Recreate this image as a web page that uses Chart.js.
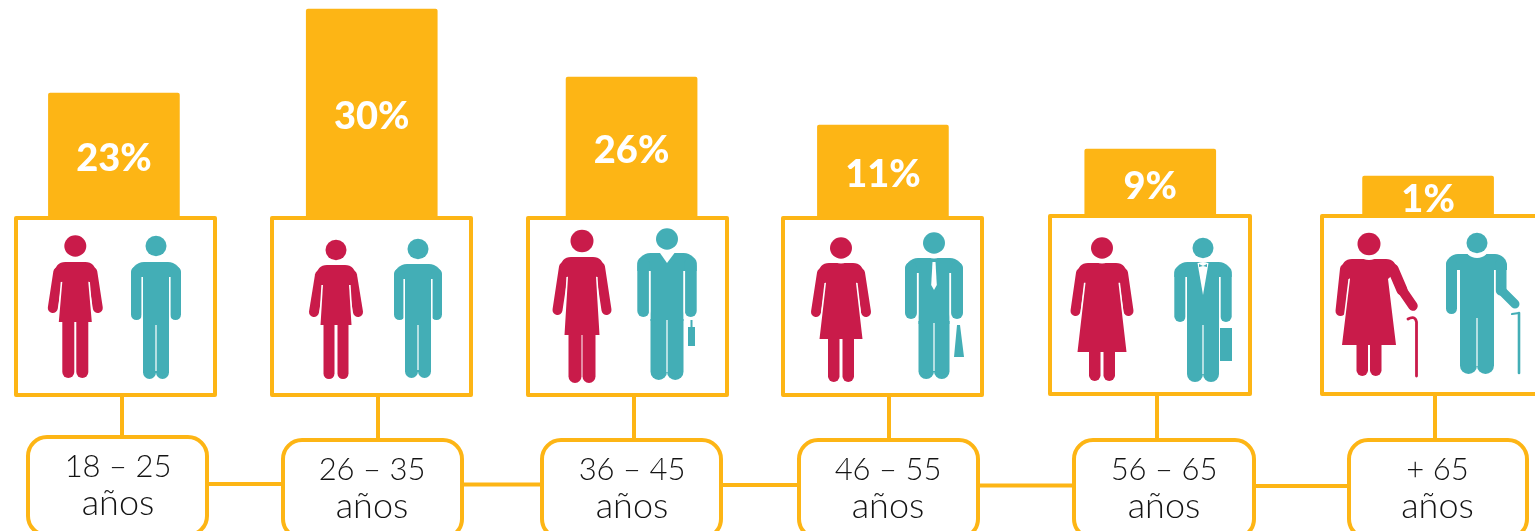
<!DOCTYPE html>
<html><head><meta charset="utf-8">
<style>html,body{margin:0;padding:0;background:#fff;overflow:hidden}canvas{display:block}</style>
<script src="https://cdn.jsdelivr.net/npm/chart.js@4"></script>
</head><body><canvas id="c" width="1535" height="531"></canvas>
<script>
// ---------- data ----------
const ageFrom = ['18 – 25','26 – 35','36 – 45','46 – 55','56 – 65','+ 65'];
const ageUnit = ['años','años','años','años','años','años'];
const sharePct = [23,30,26,11,9,1];

// ---------- layout of the infographic (not data) ----------
const ORANGE='#FDB515', PINK='#C91B4A', TEAL='#43AEB6', INK='#141414';
// the bars are not proportional in the source: value -> canvas pixel stops
const yStops = [[0,218],[1,176],[9,149],[11,125],[23,93],[26,77],[30,9],[31,0]];
const columnNudge = [-14,-12,-8,-12.5,-1,21];
const boxes = [[16,218,199,177],[272,218,199,177],[528,218,199,177],[783,218,199,177],[1050,216,200,178],[1322,216,215,178]];
const pills = [[28,437,179,98],[283,440,179,98],[542,440,179,98],[799,440,179,98],[1074,440,180,98],[1349,440,178,98]];
const stems = [122,378,634,889,1157,1435];
const stemTop = [397,397,397,397,396,396];
const links = [[209,281,484],[464,540,484.5],[723,797,485],[980,1072,485.5],[1256,1347,486]];
const labelX = [118,372,632,888,1164,1437.5];
const labelY = [[477,515],[480,518],[480,518],[480,518],[480,518],[480,518]];

const women = [
 {cx:75.3,hy:246,hr:11,top:262,sh:22,hand:27.5,handY:313,hem:322,hh:16.5,lo:13,lw:12,lb:378,waist:12},
 {cx:336,hy:250,hr:10.5,top:265,sh:21,hand:27,handY:317,hem:325,hh:15.5,lo:12.5,lw:11,lb:379,waist:12},
 {cx:582,hy:241,hr:11.5,top:257,sh:23,hand:29.5,handY:315,hem:335,hh:17.5,lo:13.5,lw:13,lb:383,waist:13},
 {cx:841,hy:248,hr:11,top:263,sh:24,hand:30,handY:317,hem:339,hh:21.5,lo:13,lw:11.5,lb:382,waist:14},
 {cx:1102,hy:248,hr:11,top:263,sh:26,hand:31.5,handY:316,hem:352,hh:24.5,lo:13,lw:11.5,lb:381,waist:15.5},
 {cx:1369,hy:244,hr:11.5,top:259,sh:29,hand:33.5,handY:316,hem:345,hh:27,lo:12.5,lw:11.5,lb:376,waist:18,cane:true}
];
const men = [
 {cx:156,hy:246,hr:10.5,top:262,half:25,aw:11,ab:320,gap:277,th:13,cr:325,lb:379},
 {cx:418,hy:249,hr:10.5,top:264,half:24,aw:11,ab:320,gap:279,th:13,cr:325,lb:378},
 {cx:667,hy:239,hr:11,top:253,half:29.7,aw:12,ab:317,gap:271,th:16.5,cr:320,lb:380,extra:'vee'},
 {cx:934,hy:243,hr:11,top:258,half:29,aw:12,ab:319,gap:273,th:15.5,cr:323,lb:379,extra:'tie'},
 {cx:1203,hy:248,hr:10.5,top:262,half:28.7,aw:11.5,ab:322,gap:277,th:16,cr:325,lb:382,extra:'suit'},
 {cx:1477,hy:243,hr:10.5,top:254,half:31,aw:11,ab:314,gap:270,th:17,cr:318,lb:374,extra:'cane'}
];

// ---------- scale whose pixels follow the source's hand-drawn bar heights ----------
class StopScale extends Chart.LinearScale {
  static id='stops';
  static defaults=Chart.LinearScale.defaults;
  getPixelForValue(v){
    for(let i=1;i<yStops.length;i++){
      const a=yStops[i-1],b=yStops[i];
      if(v<=b[0]) return a[1]+(v-a[0])/(b[0]-a[0])*(b[1]-a[1]);
    }
    return yStops[yStops.length-1][1];
  }
}
Chart.register(StopScale);

// ---------- figure helpers ----------
function limb(c,x1,y1,x2,y2,w,col){c.strokeStyle=col;c.lineWidth=w;c.lineCap='round';c.lineJoin='round';c.beginPath();c.moveTo(x1,y1);c.lineTo(x2,y2);c.stroke();}
function head(c,x,y,r,col){c.fillStyle='#fff';c.beginPath();c.arc(x,y+2,r+2.5,0,7);c.fill();c.fillStyle=col;c.beginPath();c.ellipse(x,y,r,r*.97,0,0,7);c.fill();}
function woman(c,f){
  const x=f.cx,col=PINK,aw=10;
  for(const s of [-1,1]){const cxL=x+s*(f.lo-f.lw/2);limb(c,cxL,f.hem,cxL,f.lb-f.lw/2,f.lw,col);}
  limb(c,x-f.sh+5,f.top+10,x-f.hand+5,f.handY-5,aw,col);
  if(f.cane){
    limb(c,x+f.sh-5,f.top+10,1402,290,11,col);limb(c,1402,290,1413,306,9.5,col);
    c.strokeStyle=col;c.lineWidth=2.8;c.lineCap='round';c.beginPath();c.moveTo(1416.5,376);c.lineTo(1416.5,322);c.quadraticCurveTo(1415,315,1408,319);c.stroke();
  } else limb(c,x+f.sh-5,f.top+10,x+f.hand-5,f.handY-5,aw,col);
  // thin slit along the dress edge, below the armpit
  const y0=f.top+20, edge=y=>f.waist+1+(f.hh-f.waist-1)*(y-y0)/(f.hem-y0);
  c.strokeStyle='#fff';c.lineWidth=1.8;c.lineCap='butt';
  for(const s of [-1,1]){
    if(f.cane&&s>0){c.lineWidth=1.8;}
    const y1=Math.min(f.handY+2,f.hem);
    c.beginPath();c.moveTo(x+s*(edge(y0)+.7),y0);c.lineTo(x+s*(edge(y1)+.7),y1);c.stroke();
  }
  // dress with rounded shoulders
  c.fillStyle=col;c.beginPath();
  c.moveTo(x-f.sh+1,f.top+12);c.quadraticCurveTo(x-f.sh+2,f.top,x-f.sh+12,f.top);
  c.lineTo(x+f.sh-12,f.top);c.quadraticCurveTo(x+f.sh-2,f.top,x+f.sh-1,f.top+12);
  c.lineTo(x+f.waist+1,y0);c.lineTo(x+f.hh,f.hem);c.lineTo(x-f.hh,f.hem);c.lineTo(x-f.waist-1,y0);c.closePath();c.fill();
  head(c,x,f.hy,f.hr,col);
}
function man(c,f){
  const x=f.cx,col=TEAL,lw=f.th;
  for(const s of [-1,1]){const lx=x+s*(f.th/2);limb(c,lx,f.cr-6,lx,f.lb-lw/2,lw,col);}
  c.fillStyle=col;
  c.fillRect(x-f.th,f.top+6,f.th*2,f.cr-f.top-5);
  c.fillStyle='#fff';c.fillRect(x-.6,f.cr,1.2,f.lb-f.cr-8);
  c.fillStyle=col;
  if(f.extra==='cane'){
    const l=1446,r=1507;
    c.beginPath();c.roundRect(l,f.top,r-l,f.gap-f.top,[12,12,0,0]);c.fill();
    limb(c,l+5.5,f.top+10,l+5.5,f.ab-5.5,11,col);
    limb(c,1501,f.top+10,1501,290,11,col);limb(c,1501,290,1515,304,9,col);
    limb(c,1519,373,1519,313,2.6,col);limb(c,1519,313,1512,314,2.2,col);
  } else {
    c.beginPath();c.roundRect(x-f.half,f.top,f.half*2,f.gap-f.top,[13,13,0,0]);c.fill();
    for(const s of [-1,1]){const ax=x+s*(f.half-f.aw/2);limb(c,ax,f.top+10,ax,f.ab-f.aw/2,f.aw,col);}
  }
  c.fillStyle='#fff';
  if(f.extra==='vee'){
    c.beginPath();c.moveTo(x-7,f.top);c.lineTo(x,f.top+10);c.lineTo(x+7.5,f.top);c.closePath();c.fill();
    c.fillStyle=col;c.fillRect(688,327,7,19);c.fillRect(690.5,320,2,7);
  }
  if(f.extra==='tie'){
    c.beginPath();c.moveTo(x-1.5,f.top+4);c.lineTo(x+1.5,f.top+4);c.lineTo(x+2.8,f.top+27);c.lineTo(x,f.top+32);c.lineTo(x-2.8,f.top+27);c.closePath();c.fill();
    c.fillStyle=col;c.beginPath();c.moveTo(957,325);c.lineTo(960,325);c.lineTo(964,357);c.lineTo(954,357);c.closePath();c.fill();
  }
  if(f.extra==='suit'){
    c.beginPath();c.moveTo(x-5.5,f.top+1);c.lineTo(x,f.top+33);c.lineTo(x+5.5,f.top+1);c.closePath();c.fill();
    c.fillStyle=col;c.beginPath();c.moveTo(x-4,f.top+2);c.lineTo(x,f.top+4);c.lineTo(x+4,f.top+2);c.lineTo(x+4,f.top+5);c.lineTo(x,f.top+4);c.lineTo(x-4,f.top+5);c.closePath();c.fill();
    c.fillRect(1220,328,12,33);
  }
  // thin slits between arms and body
  c.fillStyle='#fff';
  if(f.extra!=='cane'){
    for(const s of [-1,1]){const ax=x+s*(f.th+.8);c.fillRect(ax-.8,f.gap,1.6,f.ab-f.gap+2);}
  } else {
    c.fillRect(x-f.th-1.6,f.gap,1.6,f.ab-f.gap+2);
    c.fillRect(x+f.th,f.gap,1.6,292-f.gap);
  }
  head(c,x,f.hy,f.hr,col);
}

// ---------- plugin: nudges, frames, figures and texts ----------
const infographic={
  id:'infographic',
  afterDatasetsUpdate(chart){
    chart.getDatasetMeta(0).data.forEach((el,i)=>{el.x+=columnNudge[i];});
  },
  afterDatasetsDraw(chart){
    const c=chart.ctx,bars=chart.getDatasetMeta(0).data;
    c.save();
    c.strokeStyle=ORANGE;c.lineWidth=4;c.lineCap='butt';
    links.forEach(l=>{c.beginPath();c.moveTo(l[0],l[2]);c.lineTo(l[1],l[2]);c.stroke();});
    stems.forEach((x,i)=>{c.beginPath();c.moveTo(x,stemTop[i]);c.lineTo(x,pills[i][1]);c.stroke();});
    c.lineJoin='round';
    boxes.forEach(b=>{c.fillStyle='#fff';c.fillRect(...b);c.strokeStyle=ORANGE;c.lineWidth=4;c.strokeRect(...b);});
    pills.forEach(p=>{c.fillStyle='#fff';c.strokeStyle=ORANGE;c.lineWidth=4;c.beginPath();c.roundRect(p[0],p[1],p[2],p[3],19);c.fill();c.stroke();});
    women.forEach(f=>woman(c,f));
    men.forEach(f=>man(c,f));
    c.fillStyle='#fff';c.textAlign='center';c.textBaseline='middle';c.font='900 38px Lato';
    bars.forEach((el,i)=>{c.fillText(sharePct[i]+'%',el.x,(el.y+el.base)/2+3);});
    c.fillStyle=INK;c.textBaseline='alphabetic';
    ageFrom.forEach((t,i)=>{
      c.font='300 31px Lato';
      c.fillText(t,labelX[i],labelY[i][0]);
      c.font='300 36px Lato';
      c.fillText(ageUnit[i],labelX[i],labelY[i][1]);
    });
    c.restore();
  }
};

new Chart(document.getElementById('c'),{
  type:'bar',
  data:{labels:ageFrom.map((a,i)=>[a,ageUnit[i]]),
    datasets:[{label:'Edad',data:sharePct,backgroundColor:ORANGE,barThickness:131,borderRadius:{topLeft:2,topRight:2},borderSkipped:'bottom'}]},
  plugins:[infographic],
  options:{responsive:false,animation:false,events:[],devicePixelRatio:1,
    layout:{padding:0},
    plugins:{legend:{display:false},tooltip:{enabled:false},title:{display:false}},
    scales:{
      x:{type:'category',display:false,offset:true},
      y:{type:'stops',display:false,min:0,max:31}
    }}
});
</script></body></html>
